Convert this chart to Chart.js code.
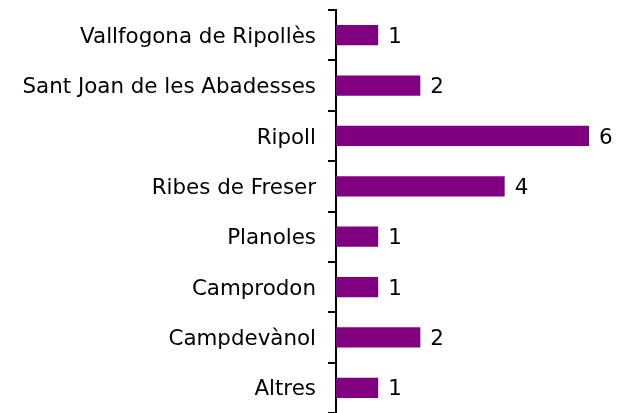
<!DOCTYPE html>
<html>
<head>
<meta charset="utf-8">
<script src="https://cdn.jsdelivr.net/npm/chart.js@4/dist/chart.umd.min.js"></script>
<style>
html,body{margin:0;padding:0;background:#fff;}
#wrap{width:617px;height:413px;position:relative;}
</style>
</head>
<body>
<div id="wrap"><canvas id="c" width="617" height="413"></canvas></div>
<script>
const categories = ["Vallfogona de Ripollès","Sant Joan de les Abadesses","Ripoll","Ribes de Freser","Planoles","Camprodon","Campdevànol","Altres"];
const values = [1,2,6,4,1,1,2,1];

const FONT = "'DejaVu Sans', sans-serif";
const FSIZE = 21.4;

const valueLabels = {
  id: 'valueLabels',
  afterDatasetsDraw(chart) {
    const ctx = chart.ctx;
    const meta = chart.getDatasetMeta(0);
    ctx.save();
    ctx.font = FSIZE + "px " + FONT;
    ctx.fillStyle = "#000";
    ctx.textAlign = "left";
    ctx.textBaseline = "middle";
    meta.data.forEach((bar, i) => {
      ctx.fillText(String(values[i]), bar.x + 10, bar.y + 2);
    });
    ctx.restore();
  }
};

new Chart(document.getElementById('c'), {
  type: 'bar',
  data: {
    labels: categories,
    datasets: [{
      data: values,
      backgroundColor: '#800080',
      borderWidth: 0,
      barPercentage: 0.4,
      categoryPercentage: 1.0
    }]
  },
  options: {
    indexAxis: 'y',
    responsive: false,
    animation: false,
    layout: { padding: { top: 10, bottom: 0, left: 0, right: 0 } },
    plugins: { legend: { display: false }, tooltip: { enabled: false } },
    scales: {
      x: {
        display: false,
        min: 0,
        max: 6.664
      },
      y: {
        afterFit(scale) { scale.width = 336; scale.paddingTop = 0; scale.paddingBottom = 0; },
        border: { display: true, color: '#000', width: 2 },
        grid: { display: true, drawOnChartArea: false, drawTicks: true, tickLength: 8, color: '#000', lineWidth: 2, offset: true },
        ticks: { color: '#000', font: { family: FONT, size: FSIZE }, padding: 12, labelOffset: 2 }
      }
    }
  },
  plugins: [valueLabels]
});
</script>
</body>
</html>
